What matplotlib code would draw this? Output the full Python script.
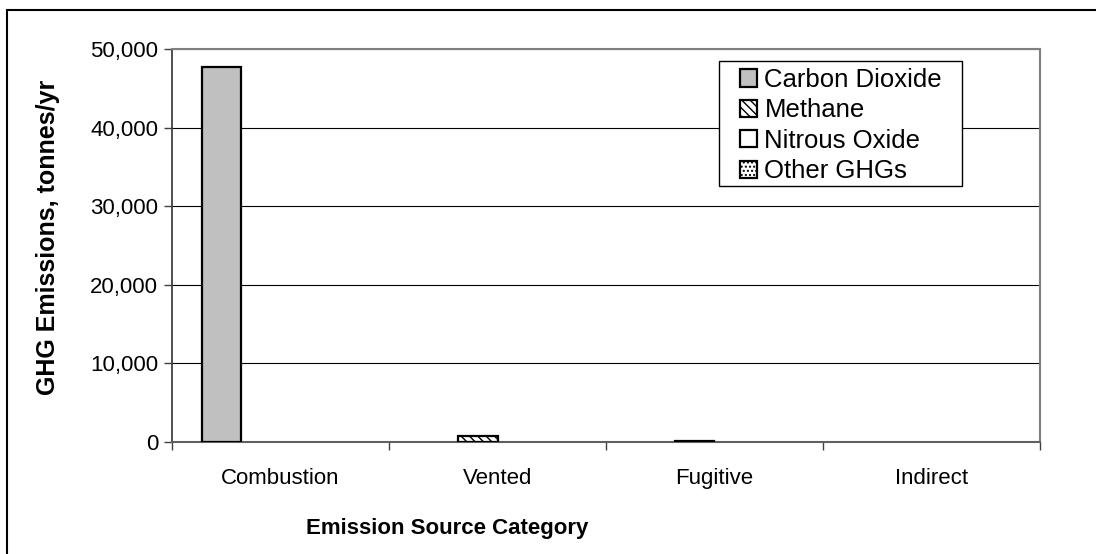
import numpy as np
import matplotlib
matplotlib.use("Agg")
import matplotlib.pyplot as plt
from matplotlib.patches import Rectangle
from matplotlib.ticker import StrMethodFormatter

# data (tonnes/yr)
categories = ["Combustion", "Vented", "Fugitive", "Indirect"]
series_names = ["Carbon Dioxide", "Methane", "Nitrous Oxide", "Other GHGs"]
carbon_dioxide = [47700, 0, 0, 0]
methane = [0, 750, 120, 0]
nitrous_oxide = [0, 0, 0, 0]
other_ghgs = [0, 0, 0, 0]

plt.rcParams["font.family"] = ["Liberation Sans", "DejaVu Sans"]
plt.rcParams["hatch.linewidth"] = 1.0

W, H = 1096, 554
fig = plt.figure(figsize=(W / 100, H / 100), dpi=100)
ax = fig.add_axes([172 / W, 1 - 442 / H, (1040 - 172) / W, (442 - 49) / H])

# outer chart-area frame (runs off the right/bottom edge like the reference)
fig.patches.append(Rectangle((7 / W, -0.1), 1.2, 1 - 10 / H + 0.1,
                             transform=fig.transFigure, fill=False,
                             edgecolor="black", linewidth=1.5))

styles = [
    dict(facecolor="#c0c0c0", hatch=None),
    dict(facecolor="white", hatch="\\\\\\\\"),
    dict(facecolor="white", hatch=None),
    dict(facecolor="white", hatch="...."),
]
all_values = [carbon_dioxide, methane, nitrous_oxide, other_ghgs]

x = np.arange(len(categories))
width = 1 / 5.5
for i, (name, vals, st) in enumerate(zip(series_names, all_values, styles)):
    v = np.array(vals, dtype=float)
    v = np.where(v > 0, v, np.nan)  # excel draws nothing for zero bars
    ax.bar(x + (i - 1.5) * width, v, width, label=name,
           facecolor=st["facecolor"], hatch=st["hatch"],
           edgecolor="black", linewidth=1.6, zorder=3)

ax.set_xlim(-0.5, len(categories) - 0.5)
ax.set_ylim(0, 50000)
ax.set_yticks(np.arange(0, 50001, 10000))
ax.yaxis.set_major_formatter(StrMethodFormatter("{x:,.0f}"))
ax.grid(axis="y", color="black", linewidth=0.8, zorder=0)

# category boundaries get the tick marks, centres get the labels
ax.set_xticks(np.arange(-0.5, len(categories), 1.0))
ax.set_xticklabels([])
ax.set_xticks(x, minor=True)
ax.set_xticklabels(categories, minor=True)
ax.tick_params(axis="x", which="major", length=6, width=1, color="#404040", direction="out")
ax.tick_params(axis="x", which="minor", length=0, pad=19, labelsize=16)
ax.tick_params(axis="y", length=6, width=1, color="#404040", pad=4, labelsize=16)

for side in ["top", "right"]:
    ax.spines[side].set_color("#808080")
    ax.spines[side].set_linewidth(1.5)
ax.spines["left"].set_color("#404040")
ax.spines["bottom"].set_color("#606060")
ax.spines["left"].set_linewidth(1.3)
ax.spines["bottom"].set_linewidth(1.5)

ax.set_ylabel("GHG Emissions, tonnes/yr", fontsize=18, fontweight="bold")
ax.yaxis.set_label_coords((60 - 172) / (1040 - 172), 0.52)
ax.set_xlabel("Emission Source Category", fontsize=16, fontweight="bold")
ax.xaxis.set_label_coords((447 - 172) / (1040 - 172), -(518 - 442) / (442 - 49))

# legend box drawn by hand so the padding matches the reference
ax.add_patch(Rectangle((719 / W, 1 - 186 / H), (962 - 719) / W, (186 - 61) / H,
                       transform=fig.transFigure, facecolor="white", clip_on=False,
                       edgecolor="black", linewidth=1.0, zorder=4))
leg = ax.legend(loc="upper left", bbox_to_anchor=(740 / W, 1 - 68 / H),
                bbox_transform=fig.transFigure, borderaxespad=0, borderpad=0,
                fontsize=18.5, frameon=False,
                handlelength=0.65, handleheight=0.65, handletextpad=0.3,
                labelspacing=0.25)
leg.set_zorder(5)

fig.savefig("out.png", dpi=100)
